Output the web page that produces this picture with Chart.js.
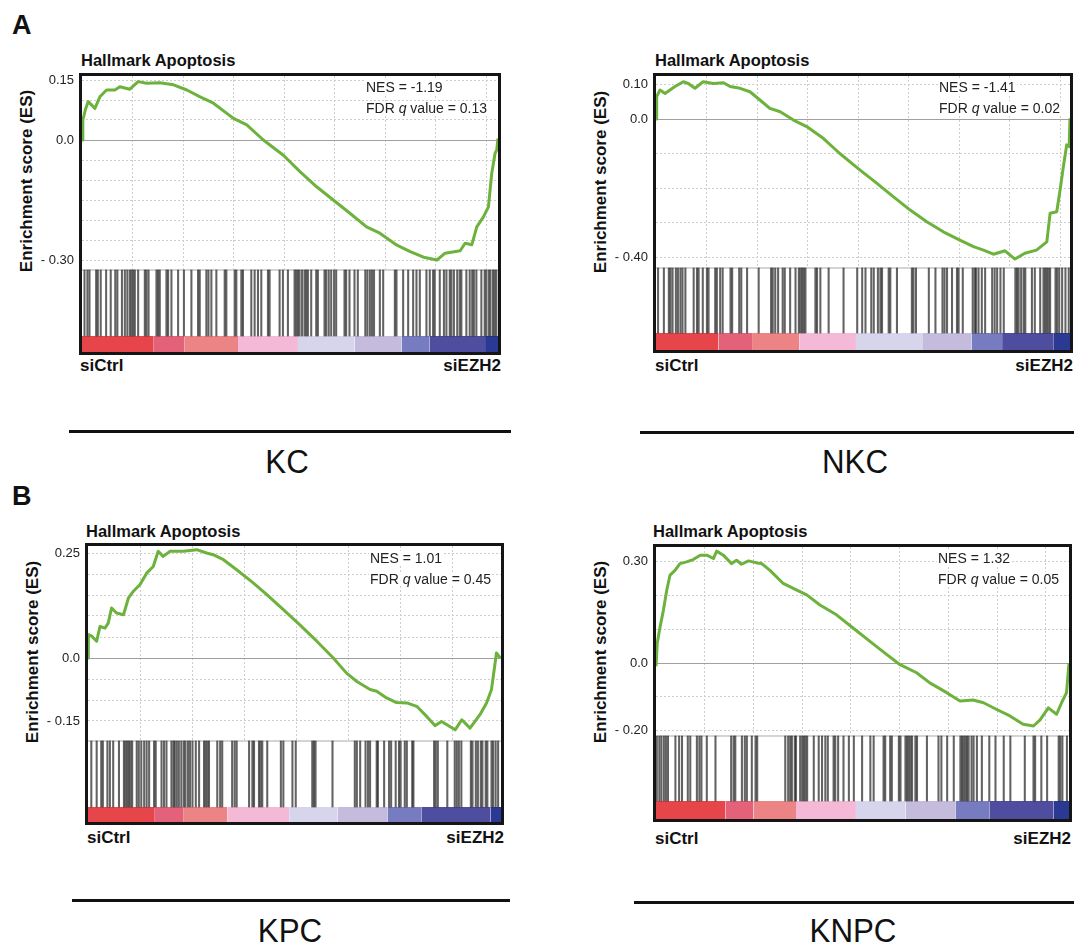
<!DOCTYPE html>
<html>
<head>
<meta charset="utf-8">
<script src="https://cdn.jsdelivr.net/npm/chart.js@4.4.1/dist/chart.umd.min.js"></script>
<style>
  body { margin: 0; background: #fff; width: 1074px; height: 945px; position: relative; overflow: hidden;
         font-family: "Liberation Sans", Arial, sans-serif; color: #111; }
  .t { position: absolute; white-space: nowrap; line-height: 1; }
  .b { font-weight: bold; }
  .ttl { font-size: 16.5px; font-weight: bold; }
  .stat { font-size: 14px; color: #222; background: #fff; z-index: 2; padding: 0 1px; }
  .grp { font-size: 17px; font-weight: bold; }
  .ylab { font-size: 17px; font-weight: bold; transform: translate(-50%, -50%) rotate(-90deg); }
  .cell { font-size: 34px; transform: translate(-50%, -50%) scaleX(0.92); }
  .rule { position: absolute; height: 2.5px; background: #111; }
  canvas { position: absolute; z-index: 1; }
</style>
</head>
<body>

<div class="t b" style="left:12px;top:12px;font-size:27px">A</div>
<div class="t b" style="left:12px;top:483px;font-size:27px">B</div>

<div class="t ttl" style="left:81px;top:52px">Hallmark Apoptosis</div>
<div class="t ttl" style="left:655px;top:52px">Hallmark Apoptosis</div>
<div class="t ttl" style="left:86px;top:523px">Hallmark Apoptosis</div>
<div class="t ttl" style="left:653px;top:523px">Hallmark Apoptosis</div>

<div class="t ylab" style="left:26px;top:181px">Enrichment score (ES)</div>
<div class="t ylab" style="left:600px;top:182px">Enrichment score (ES)</div>
<div class="t ylab" style="left:32px;top:652px">Enrichment score (ES)</div>
<div class="t ylab" style="left:600px;top:652px">Enrichment score (ES)</div>

<div class="t stat" style="left:365px;top:80px">NES = -1.19</div>
<div class="t stat" style="left:365px;top:101px">FDR <i>q</i> value = 0.13</div>
<div class="t stat" style="left:938px;top:80px">NES = -1.41</div>
<div class="t stat" style="left:938px;top:101px">FDR <i>q</i> value = 0.02</div>
<div class="t stat" style="left:369px;top:551px">NES = 1.01</div>
<div class="t stat" style="left:369px;top:572px">FDR <i>q</i> value = 0.45</div>
<div class="t stat" style="left:937px;top:551px">NES = 1.32</div>
<div class="t stat" style="left:937px;top:572px">FDR <i>q</i> value = 0.05</div>

<div class="t grp" style="left:80px;top:357px">siCtrl</div>
<div class="t grp" style="right:573px;top:357px">siEZH2</div>
<div class="t grp" style="left:655px;top:357px">siCtrl</div>
<div class="t grp" style="right:1px;top:357px">siEZH2</div>
<div class="t grp" style="left:87px;top:829px">siCtrl</div>
<div class="t grp" style="right:570px;top:829px">siEZH2</div>
<div class="t grp" style="left:655px;top:830px">siCtrl</div>
<div class="t grp" style="right:3px;top:830px">siEZH2</div>

<div class="rule" style="left:69px;width:442px;top:430px"></div>
<div class="rule" style="left:640px;width:434px;top:431px"></div>
<div class="rule" style="left:72px;width:438px;top:899px"></div>
<div class="rule" style="left:634px;width:440px;top:901px"></div>

<div class="t cell" style="left:287px;top:461px">KC</div>
<div class="t cell" style="left:855px;top:461px">NKC</div>
<div class="t cell" style="left:290px;top:930px">KPC</div>
<div class="t cell" style="left:853px;top:930px">KNPC</div>

<canvas id="kc"></canvas>
<canvas id="nkc"></canvas>
<canvas id="kpc"></canvas>
<canvas id="knpc"></canvas>

<script>
// running enrichment score: rank position (% of ranked list) and ES value
const kcRank = [0, 0.2, 0.9, 1.5, 3.1, 4.3, 5.9, 7.9, 9.1, 11.5, 13.5, 15.5, 18.7, 22.0, 25.2, 28.4, 31.6, 36.4, 39.6, 43.6,
  48.4, 52.4, 56.4, 60.4, 64.4, 68.4, 71.6, 75.7, 78.9, 82.1, 85.3, 87.3, 90.9, 92.1, 93.7, 94.9, 96.5, 97.7, 98.5, 99.3, 99.7, 100];
const kcScore = [0, 0.05, 0.079, 0.096, 0.079, 0.108, 0.125, 0.125, 0.133, 0.127, 0.146, 0.142, 0.143, 0.138, 0.125, 0.108, 0.092, 0.054, 0.038, 0,
  -0.038, -0.079, -0.117, -0.15, -0.183, -0.217, -0.233, -0.263, -0.279, -0.293, -0.30, -0.283, -0.277, -0.258, -0.262, -0.217, -0.192, -0.167, -0.083, -0.033, -0.025, 0.004];
const kcHits = [0.6, 1.3, 1.8, 3.4, 3.8, 4.5, 5.8, 6.9, 8.0, 8.5, 9.6, 10.3, 10.9, 11.5, 11.9, 12.3, 12.7, 13.5, 15.1, 15.5, 16.0, 17.9, 18.3, 18.7,
  20.3, 20.7, 21.5, 23.1, 24.5, 26.3, 27.9, 28.3, 29.9, 30.4, 31.1, 32.3, 34.3, 34.7, 36.7, 37.1, 38.3, 38.7, 40.7, 41.5, 42.3, 43.1, 44.7, 45.1,
  47.5, 48.3, 49.5, 51.1, 51.5, 51.9, 52.3, 52.9, 53.5, 53.9, 54.3, 55.1, 56.3, 56.7, 58.3, 58.7, 59.3, 59.9, 60.6, 61.1, 63.1, 63.5, 64.3, 65.5,
  66.3, 68.1, 68.6, 69.2, 69.7, 70.2, 71.6, 72.4, 75.2, 75.6, 77.2, 78.4, 79.6, 80.4, 81.2, 82.8, 83.6, 84.4, 84.8, 86.0, 87.0, 87.6, 88.4, 88.8,
  89.4, 90.2, 90.8, 91.2, 92.4, 93.2, 93.8, 94.2, 94.8, 96.0, 96.8, 97.2, 97.8, 98.2, 98.8, 99.2, 99.6];

const nkcRank = [0, 0.16, 0.97, 2.17, 3.38, 4.59, 6.6, 7.8, 9.4, 11.4, 13.8, 16.3, 17.9, 20.3, 22.7, 25.1, 27.5, 30.0, 33.2, 36.4,
  40.4, 44.4, 49.3, 53.3, 57.3, 61.4, 65.4, 69.4, 73.4, 76.7, 79.1, 81.5, 84.3, 86.7, 89.1, 91.9, 94.4, 95.2, 96.8, 97.6, 98.4, 99.2, 99.8, 100];
const nkcScore = [0, 0.065, 0.084, 0.074, 0.084, 0.094, 0.108, 0.103, 0.089, 0.108, 0.103, 0.105, 0.094, 0.089, 0.079, 0.055, 0.031, 0.021, -0.003, -0.022,
  -0.056, -0.10, -0.148, -0.186, -0.225, -0.264, -0.298, -0.327, -0.351, -0.370, -0.380, -0.392, -0.382, -0.406, -0.389, -0.380, -0.356, -0.273, -0.269, -0.206, -0.138, -0.075, -0.080, 0.002];
const nkcHits = [0.5, 1.9, 3.1, 3.5, 4.0, 4.8, 5.3, 5.9, 6.4, 7.1, 9.1, 9.9, 10.3, 11.3, 12.3, 12.7, 14.3, 14.7, 15.5, 16.1, 18.0, 18.4, 20.1, 20.6,
  22.0, 24.8, 27.8, 28.2, 28.8, 29.5, 30.6, 31.1, 32.4, 33.7, 34.5, 34.9, 35.3, 35.7, 36.1, 38.5, 38.9, 39.7, 41.7, 45.3, 48.6, 49.8, 50.6, 52.0,
  52.6, 53.6, 54.2, 54.6, 56.2, 56.6, 58.2, 61.8, 62.2, 62.8, 65.9, 67.5, 69.2, 69.7, 70.3, 71.5, 72.7, 73.1, 74.1, 76.5, 77.0, 77.3, 77.9, 78.7,
  79.5, 81.2, 81.8, 82.4, 83.2, 84.0, 86.8, 87.2, 87.6, 88.2, 88.8, 89.2, 90.8, 91.5, 92.8, 93.6, 94.0, 94.4, 94.8, 95.2, 96.5, 96.9, 97.4, 98.1,
  98.9, 99.7];

const kpcRank = [0, 0.08, 0.89, 2.1, 2.9, 4.1, 4.9, 5.7, 6.9, 8.6, 9.8, 11.0, 12.6, 14.2, 15.8, 17.0, 18.2, 19.9, 23.1, 26.3,
  28.7, 30.3, 32.8, 36.0, 40.0, 43.3, 47.3, 51.3, 55.4, 59.4, 62.6, 65.1, 68.3, 69.9, 72.3, 74.7, 77.2, 79.6, 82.0, 84.0,
  85.6, 88.9, 90.5, 92.5, 94.9, 96.5, 97.7, 98.9, 99.8];
const kpcScore = [0, 0.056, 0.052, 0.040, 0.075, 0.071, 0.083, 0.119, 0.107, 0.103, 0.143, 0.159, 0.175, 0.202, 0.218, 0.254, 0.242, 0.254, 0.254, 0.258,
  0.250, 0.246, 0.234, 0.210, 0.179, 0.151, 0.115, 0.079, 0.040, 0, -0.036, -0.056, -0.075, -0.079, -0.095, -0.106, -0.107, -0.115, -0.139, -0.161,
  -0.151, -0.171, -0.147, -0.167, -0.135, -0.107, -0.075, 0.012, 0];
const kpcHits = [0.8, 2.1, 3.2, 3.6, 4.7, 5.3, 6.1, 7.5, 8.7, 9.1, 9.5, 9.9, 10.3, 10.7, 11.8, 12.3, 12.9, 13.6, 14.2, 14.8, 16.0, 16.4, 17.8, 18.4,
  19.0, 20.2, 20.7, 21.0, 21.5, 22.0, 22.6, 23.2, 23.6, 24.2, 24.7, 25.3, 26.1, 26.9, 28.1, 28.5, 28.9, 29.3, 31.3, 32.0, 32.5, 34.9, 35.5, 36.0,
  39.0, 39.8, 40.2, 41.4, 41.8, 42.2, 43.4, 46.7, 47.3, 49.5, 50.3, 54.3, 54.7, 55.1, 59.2, 64.6, 65.1, 65.9, 67.2, 67.8, 68.3, 69.9, 70.2, 71.7,
  72.9, 73.4, 74.5, 75.3, 75.7, 76.7, 77.2, 78.5, 78.8, 83.8, 84.2, 84.7, 87.0, 88.8, 89.3, 89.8, 90.4, 92.7, 93.1, 93.9, 94.4, 95.1, 95.5, 96.3,
  96.7, 97.7, 98.1, 98.7, 99.3];

const knpcRank = [0, 0.3, 1.0, 1.8, 2.6, 3.4, 4.6, 5.8, 7.4, 9.0, 10.7, 12.3, 13.9, 14.7, 16.3, 18.3, 19.5, 20.7, 22.4, 24.4,
  25.6, 27.6, 30.8, 34.1, 36.5, 39.7, 43.7, 47.8, 51.8, 55.9, 59.1, 63.1, 66.3, 70.4, 73.6, 76.8, 79.3, 82.5, 85.7, 88.9,
  91.4, 93.0, 95.0, 97.0, 98.2, 99.4, 100];
const knpcScore = [-0.01, 0.059, 0.108, 0.157, 0.216, 0.261, 0.275, 0.295, 0.300, 0.307, 0.320, 0.320, 0.310, 0.332, 0.320, 0.295, 0.305, 0.293, 0.303, 0.297,
  0.295, 0.275, 0.236, 0.216, 0.202, 0.172, 0.143, 0.103, 0.064, 0.025, -0.005, -0.029, -0.059, -0.088, -0.113, -0.110, -0.118, -0.138, -0.157, -0.182,
  -0.187, -0.169, -0.133, -0.152, -0.118, -0.088, 0];
const knpcHits = [0.2, 0.8, 1.3, 1.9, 2.4, 2.9, 4.7, 5.6, 6.3, 7.7, 8.3, 9.9, 10.5, 11.0, 12.3, 14.4, 18.2, 18.8, 19.2, 20.8, 21.5, 22.0, 23.2, 24.1,
  24.5, 31.3, 32.0, 32.5, 32.9, 33.6, 33.9, 34.9, 35.4, 35.8, 36.2, 36.6, 38.2, 39.4, 40.2, 41.0, 41.6, 43.0, 43.4, 44.1, 45.4, 46.7, 47.9, 49.9,
  51.9, 52.7, 55.1, 55.5, 56.7, 57.1, 58.8, 59.2, 60.4, 60.8, 61.2, 61.6, 62.0, 62.8, 63.2, 65.6, 68.4, 69.1, 70.5, 72.1, 73.7, 74.1, 74.5, 74.9,
  75.3, 75.7, 76.4, 76.9, 77.7, 78.9, 80.7, 82.2, 84.2, 85.8, 89.3, 91.4, 91.8, 93.3, 94.7, 97.5, 97.9, 98.4, 99.5];

// ranked-list heat strip: colour bands and where they change (% of list)
const heatColors = ['#e6464a', '#e3627a', '#ec8384', '#f3b9d7', '#d7d5ec', '#c4bbdd', '#777bbf', '#4e4d9f', '#2a3a94'];
const kcHeatStops = [0, 17.1, 24.7, 37.5, 51.9, 65.5, 76.8, 83.6, 96.9, 100];
const nkcHeatStops = [0, 15.1, 23.2, 34.6, 48.3, 64.3, 76.2, 83.6, 96.1, 100];
const kpcHeatStops = [0, 16.0, 23.2, 33.7, 48.7, 60.4, 72.5, 80.7, 97.5, 100];
const knpcHeatStops = [0, 16.8, 23.6, 33.9, 48.4, 60.4, 72.5, 80.7, 96.3, 100];

// y tick labels
const kcTicks = [0.15, 0, -0.30], kcTickText = ['0.15', '0.0', '- 0.30'];
const nkcTicks = [0.10, 0, -0.40], nkcTickText = ['0.10', '0.0', '- 0.40'];
const kpcTicks = [0.25, 0, -0.15], kpcTickText = ['0.25', '0.0', '- 0.15'];
const knpcTicks = [0.30, 0, -0.20], knpcTickText = ['0.30', '0.0', '- 0.20'];

const AXIS_W = 62, PAD = 22;
const GREEN = '#6cb23c';

const boxBorder = {
  id: 'boxBorder',
  afterDraw(chart) {
    const a = chart.chartArea, c = chart.ctx;
    c.save();
    c.lineWidth = 3;
    c.strokeStyle = '#151515';
    c.strokeRect(a.left - 1.5, a.top - 1.5, a.right - a.left + 3, a.bottom - a.top + 3);
    c.restore();
  }
};

function panel(id, p) {
  const [l, t, r, b] = p.inner;
  const cv = document.getElementById(id);
  cv.width = AXIS_W + (r - l) + PAD;
  cv.height = (b - t) + 2 * PAD;
  cv.style.left = (l - AXIS_W) + 'px';
  cv.style.top = (t - PAD) + 'px';

  const yMax = (p.zeroY - t) / p.ppu;
  const yMin = -(b - p.zeroY) / p.ppu;
  const sepV = -(p.sepY - p.zeroY) / p.ppu;
  const heatV = -(p.heatY - p.zeroY) / p.ppu;

  const datasets = [];
  datasets.push({
    type: 'line', label: 'es', order: 0,
    data: p.rank.map((x, i) => ({ x: x, y: p.score[i] })),
    borderColor: GREEN, borderWidth: 3, pointRadius: 0, tension: 0, fill: false,
    borderJoinStyle: 'round'
  });
  datasets.push({
    type: 'bar', label: 'hits', order: 10,
    data: p.hits.map(h => ({ x: h, y: [heatV, sepV] })),
    backgroundColor: 'rgba(25,25,25,0.68)', borderWidth: 0, barThickness: 1.4, grouped: false
  });
  for (let i = 0; i < heatColors.length; i++) {
    datasets.push({
      type: 'line', label: 'heat' + i, order: 20,
      data: [{ x: p.stops[i], y: heatV }, { x: p.stops[i + 1], y: heatV }],
      borderWidth: 0, pointRadius: 0, backgroundColor: heatColors[i], fill: { value: yMin }
    });
  }
  datasets.push({
    type: 'line', label: 'cover', order: 30,
    data: [{ x: 0, y: sepV }, { x: 100, y: sepV }],
    borderColor: '#d4d4d4', borderWidth: 2, pointRadius: 0, backgroundColor: '#ffffff', fill: { value: yMin }
  });

  new Chart(cv, {
    type: 'line',
    data: { datasets: datasets },
    options: {
      responsive: false,
      animation: false,
      layout: { padding: { left: 0, right: PAD, top: PAD, bottom: PAD } },
      plugins: { legend: { display: false }, tooltip: { enabled: false } },
      scales: {
        x: {
          type: 'linear', min: 0, max: 100, offset: false,
          afterBuildTicks: s => {
            const out = [];
            for (let v = p.xStep; v < 99.5; v += p.xStep) out.push({ value: v });
            s.ticks = out;
          },
          afterFit: s => { s.height = 0; },
          ticks: { display: false },
          grid: { color: '#cdcdcd', lineWidth: 1, drawTicks: false, offset: false },
          border: { display: false, dash: [2, 2] }
        },
        y: {
          type: 'linear', min: yMin, max: yMax,
          afterBuildTicks: s => {
            const out = [];
            for (let v = p.gridMin; v <= p.gridMax + 1e-9; v += p.gridStep) out.push({ value: Math.round(v * 1000) / 1000 });
            s.ticks = out;
          },
          afterFit: s => { s.width = AXIS_W; },
          ticks: {
            padding: 8, color: '#222', font: { family: 'Liberation Sans', size: 13 },
            callback: v => {
              const k = p.ticks.findIndex(tv => Math.abs(tv - v) < 1e-6);
              return k >= 0 ? p.tickText[k] : '';
            }
          },
          grid: {
            drawTicks: false,
            color: c => (Math.abs(c.tick.value) < 1e-9 ? '#a0a0a0' : '#cdcdcd'),
            lineWidth: 1
          },
          border: { display: false, dash: c => (Math.abs(c.tick.value) < 1e-9 ? [] : [2, 2]) }
        }
      }
    },
    plugins: [boxBorder]
  });
}

panel('kc', { inner: [82, 76, 498, 352], zeroY: 140, ppu: 400, sepY: 270, heatY: 336,
  rank: kcRank, score: kcScore, hits: kcHits, stops: kcHeatStops, ticks: kcTicks, tickText: kcTickText,
  gridMin: -0.30, gridMax: 0.15, gridStep: 0.05, xStep: 12.15 });
panel('nkc', { inner: [656, 76, 1070, 350], zeroY: 119, ppu: 345, sepY: 268, heatY: 333,
  rank: nkcRank, score: nkcScore, hits: nkcHits, stops: nkcHeatStops, ticks: nkcTicks, tickText: nkcTickText,
  gridMin: -0.40, gridMax: 0.10, gridStep: 0.1, xStep: 12.2 });
panel('kpc', { inner: [88, 546, 501, 822], zeroY: 658, ppu: 420, sepY: 741, heatY: 807,
  rank: kpcRank, score: kpcScore, hits: kpcHits, stops: kpcHeatStops, ticks: kpcTicks, tickText: kpcTickText,
  gridMin: -0.15, gridMax: 0.25, gridStep: 0.05, xStep: 12.6 });
panel('knpc', { inner: [656, 547, 1069, 819], zeroY: 663, ppu: 337, sepY: 736, heatY: 801,
  rank: knpcRank, score: knpcScore, hits: knpcHits, stops: knpcHeatStops, ticks: knpcTicks, tickText: knpcTickText,
  gridMin: -0.20, gridMax: 0.30, gridStep: 0.1, xStep: 11.8 });
</script>
</body>
</html>
